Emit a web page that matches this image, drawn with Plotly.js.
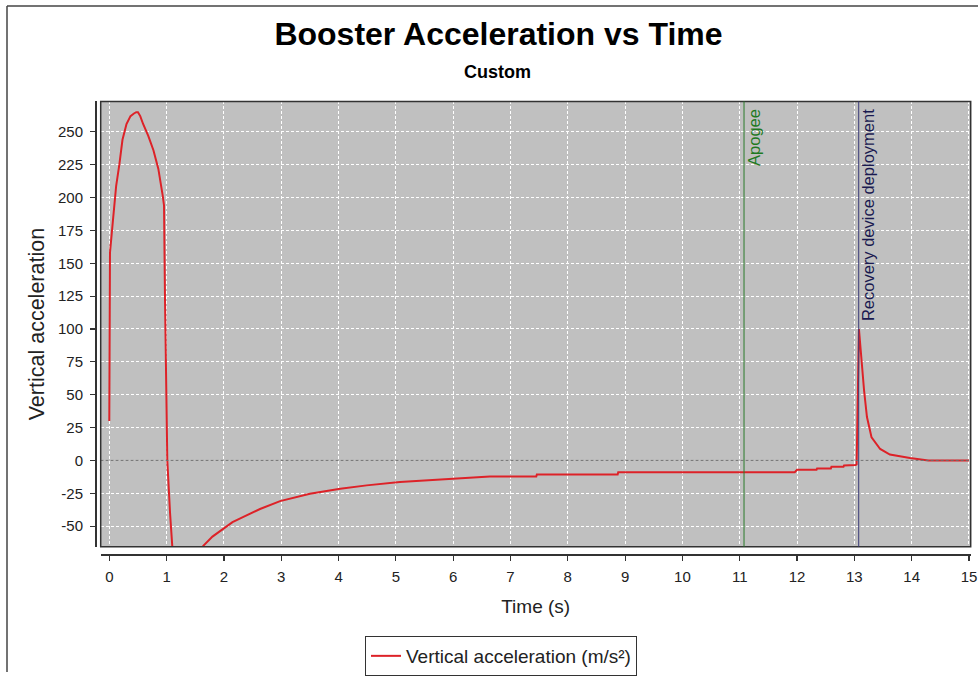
<!DOCTYPE html>
<html>
<head>
<meta charset="utf-8">
<script src="https://cdn.plot.ly/plotly-3.0.1.min.js"></script>
<style>
  html, body { margin: 0; padding: 0; background: #ffffff; }
  #chart { width: 978px; height: 676px; }
</style>
</head>
<body>
<div id="chart"></div>
<script>
// ---- data ----
const timeS = [0, 0.012, 0.06, 0.12, 0.175, 0.23, 0.30, 0.37, 0.43, 0.47, 0.50, 0.54, 0.59, 0.68, 0.77, 0.855, 0.93, 0.955,
  0.972, 0.99, 1.012, 1.06, 1.10, 1.15, 1.3, 1.5, 1.64, 1.8, 1.99, 2.15, 2.34, 2.63, 2.98, 3.5, 4.03, 4.49,
  5.07, 5.94, 6.64, 7.45, 7.46, 8.87, 8.88, 11.96, 12.0, 12.34, 12.35, 12.59, 12.6, 12.81, 12.82, 13.02,
  13.04, 13.08, 13.13, 13.17, 13.22, 13.30, 13.45, 13.62, 13.97, 14.29, 15.0];
const verticalAccel = [30, 158, 181, 209, 225, 244, 256, 262, 264, 265, 265, 262, 256, 247, 236, 222, 202, 194,
  123, 48, 0, -40, -66, -78, -88, -75, -65, -58, -52, -47, -43, -37, -31, -25.3, -21.5, -19,
  -16.5, -14, -12.2, -12.2, -10.7, -10.7, -9, -9, -7.2, -7.2, -6.1, -6.1, -4.9, -4.9, -3.9, -3.5,
  -3, 100, 73, 53, 33, 17.5, 8.7, 4.5, 1.9, 0, 0];

const eventNames = ['Apogee', 'Recovery device deployment'];
const eventTimes = [11.075, 13.076];
const eventColors = ['#2a7a2a', '#3a3a78'];
const eventTextColors = ['#1f7a1f', '#1a1a50'];

const xTickVals = [0,1,2,3,4,5,6,7,8,9,10,11,12,13,14,15];
const yTickVals = [-50,-25,0,25,50,75,100,125,150,175,200,225,250];

const titleText = 'Booster Acceleration vs Time';
const subtitleText = 'Custom';
const xTitle = 'Time (s)';
const yTitle = 'Vertical acceleration';
const seriesName = 'Vertical acceleration (m/s²)';

// ---- layout geometry ----
const W = 978, H = 676;
const plotL = 100.7, plotR = 970.7, plotT = 102, plotB = 550;
const xLineY = 557.3, yLineX = 95;
const px = v => v / W;
const py = v => 1 - v / H;

const sans = '"Liberation Sans", Arial, "DejaVu Sans", sans-serif';

const shapes = [
  // zero line
  {type: 'line', xref: 'x domain', yref: 'y', x0: 0, x1: 1, y0: 0, y1: 0,
   line: {color: '#6e6e6e', width: 1, dash: '3px,2px'}, layer: 'above'},
  // plot outline
  {type: 'rect', xref: 'x domain', yref: 'y domain', x0: 0, x1: 1, y0: 0, y1: 1,
   line: {color: '#333333', width: 1.5}, layer: 'above'},
  // outer frame (left and top edges)
  {type: 'line', xref: 'paper', yref: 'paper', x0: px(7), x1: px(7), y0: py(6), y1: 0,
   line: {color: '#444444', width: 1.5}, layer: 'above'},
  {type: 'line', xref: 'paper', yref: 'paper', x0: px(7), x1: 1, y0: py(6), y1: py(6),
   line: {color: '#444444', width: 1.5}, layer: 'above'}
];
const annotations = [
  {text: '<b>' + subtitleText + '</b>', xref: 'paper', yref: 'paper', x: px(498), y: py(72),
   xanchor: 'center', yanchor: 'middle', showarrow: false,
   font: {family: sans, size: 18, color: '#000'}}
];
eventNames.forEach((name, i) => {
  shapes.push({type: 'line', xref: 'x', yref: 'y domain', x0: eventTimes[i], x1: eventTimes[i],
    y0: 0, y1: 1, line: {color: eventColors[i], width: 1}, layer: 'above'});
  annotations.push({text: name, xref: 'x', yref: 'y domain', x: eventTimes[i], y: 1,
    xanchor: 'left', yanchor: 'top', yshift: -6, xshift: -1, textangle: -90, showarrow: false,
    font: {family: sans, size: 16.5, color: eventTextColors[i]}});
});

const trace = {
  x: timeS, y: verticalAccel, type: 'scatter', mode: 'lines', name: seriesName,
  line: {color: '#dd2228', width: 2}, showlegend: true, cliponaxis: true
};

const layout = {
  width: W, height: H,
  margin: {l: 0, r: 0, t: 0, b: 0, pad: 0},
  paper_bgcolor: '#ffffff', plot_bgcolor: '#c0c0c0',
  showlegend: true,
  title: {text: '<b>' + titleText + '</b>', xref: 'paper', yref: 'paper', x: px(498.5), y: py(34),
    xanchor: 'center', yanchor: 'middle', font: {family: sans, size: 32, color: '#000'}},
  xaxis: {
    domain: [px(plotL), px(plotR)], range: [-0.15, 15.03], anchor: 'free', position: py(xLineY),
    tickmode: 'array', tickvals: xTickVals, ticktext: xTickVals.map(String),
    showline: true, linecolor: '#333333', linewidth: 1.5,
    ticks: 'outside', ticklen: 5, tickwidth: 1.2, tickcolor: '#333333', ticklabelstandoff: 3,
    tickfont: {family: sans, size: 15, color: '#222'},
    showgrid: true, gridcolor: '#ffffff', gridwidth: 1, griddash: '3px,2px', zeroline: false,
    title: {text: xTitle, font: {family: sans, size: 19, color: '#222'}, standoff: 16}
  },
  yaxis: {
    domain: [py(plotB), py(plotT)], range: [-65.7, 273.2], anchor: 'free', position: px(yLineX),
    tickmode: 'array', tickvals: yTickVals, ticktext: yTickVals.map(String),
    showline: true, linecolor: '#333333', linewidth: 1.5,
    ticks: 'outside', ticklen: 5, tickwidth: 1.2, tickcolor: '#333333', ticklabelstandoff: 4,
    tickfont: {family: sans, size: 15, color: '#222'},
    showgrid: true, gridcolor: '#ffffff', gridwidth: 1, griddash: '3px,2px', zeroline: false,
    title: {text: yTitle, font: {family: sans, size: 21.5, color: '#222'}, standoff: 6}
  },
  legend: {
    x: px(365), y: py(640), xanchor: 'left', yanchor: 'top', orientation: 'h',
    bgcolor: '#ffffff', bordercolor: '#333333', borderwidth: 1, itemwidth: 30,
    font: {family: sans, size: 19, color: '#222'}
  },
  shapes: shapes,
  annotations: annotations
};

Plotly.newPlot('chart', [trace], layout, {displayModeBar: false, staticPlot: true});
</script>
</body>
</html>
